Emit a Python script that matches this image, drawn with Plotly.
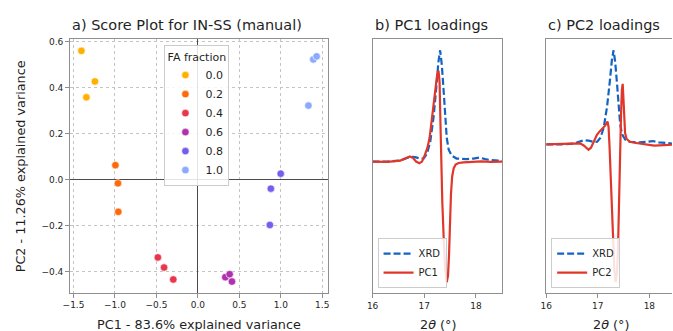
import plotly.graph_objects as go

W, H = 673, 331
FONT = "DejaVu Sans"

# ---- score plot data: PC1 / PC2 scores per FA fraction ----
fa_fractions = ["0.0", "0.2", "0.4", "0.6", "0.8", "1.0"]
fa_colors = ["#FFB000", "#FE6A0A", "#E8364C", "#B030AE", "#735FEE", "#8AA9FF"]
pc1_scores = [
    [-1.405, -1.242, -1.345],
    [-0.995, -0.964, -0.960],
    [-0.483, -0.408, -0.297],
    [0.331, 0.383, 0.411],
    [0.999, 0.880, 0.868],
    [1.392, 1.432, 1.333],
]
pc2_scores = [
    [0.560, 0.427, 0.358],
    [0.063, -0.016, -0.140],
    [-0.338, -0.382, -0.434],
    [-0.424, -0.411, -0.443],
    [0.026, -0.039, -0.197],
    [0.523, 0.536, 0.322],
]

# ---- loadings around the 17.3 deg reflection (normalised to XRD peak) ----
two_theta_xrd = [16.000, 16.287, 16.535, 16.650, 16.732, 16.822, 16.918, 16.989,
                 17.052, 17.115, 17.180, 17.233, 17.272, 17.306, 17.338, 17.371,
                 17.402, 17.434, 17.472, 17.530, 17.625, 17.816, 17.950, 18.065,
                 18.180, 18.294, 18.505]
xrd_pattern = [0.000, 0.000, 0.009, 0.027, 0.045, 0.040, 0.027, 0.029,
               0.071, 0.178, 0.401, 0.668, 0.890, 1.000, 0.873, 0.659,
               0.421, 0.214, 0.107, 0.053, 0.027, 0.022, 0.027, 0.036,
               0.022, 0.013, 0.006]

two_theta_pc1 = [16.000, 16.287, 16.535, 16.650, 16.721, 16.784, 16.841, 16.904,
                 16.956, 17.013, 17.061, 17.103, 17.141, 17.180, 17.205, 17.229,
                 17.252, 17.275, 17.296, 17.312, 17.325, 17.348, 17.377, 17.405,
                 17.434, 17.459, 17.478, 17.497, 17.516, 17.539, 17.568, 17.606,
                 17.663, 17.759, 17.912, 18.103, 18.294, 18.505]
pc1_loading = [0.000, -0.003, 0.009, 0.031, 0.045, 0.031, 0.000, -0.015,
               0.000, 0.062, 0.125, 0.214, 0.356, 0.510, 0.623, 0.719,
               0.793, 0.817, 0.712, 0.356, 0.000, -0.356, -0.712, -0.962,
               -1.084, -1.024, -0.846, -0.534, -0.294, -0.134, -0.062, -0.027,
               -0.013, -0.007, -0.004, 0.002, -0.002, 0.000]

two_theta_pc2 = [16.000, 16.274, 16.504, 16.657, 16.734, 16.820, 16.868, 16.925,
                 16.983, 17.040, 17.098, 17.146, 17.188, 17.209, 17.228, 17.247,
                 17.270, 17.295, 17.322, 17.347, 17.372, 17.391, 17.404, 17.416,
                 17.427, 17.439, 17.452, 17.467, 17.483, 17.496, 17.511, 17.529,
                 17.557, 17.615, 17.710, 17.902, 18.094, 18.285, 18.439, 18.570]
pc2_loading = [0.000, 0.002, 0.007, 0.011, -0.014, -0.056, -0.035, 0.034,
               0.102, 0.141, 0.171, 0.202, 0.244, 0.186, -0.024, -0.287,
               -0.603, -1.024, -1.340, -1.463, -1.361, -1.129, -0.761, -0.445,
               -0.182, 0.081, 0.344, 0.576, 0.644, 0.502, 0.260, 0.123,
               0.060, 0.031, 0.018, 0.002, -0.012, -0.008, -0.005, 0.000]

XRD_COLOR = "#1463C2"
PC_COLOR = "#E0372A"
SPINE = "#8f8f8f"
TEXT = "#1f1f1f"


def px_x(p):
    return p / W


def px_y(p):
    return 1 - p / H


fig = go.Figure()

for label, color, xs, ys in zip(fa_fractions, fa_colors, pc1_scores, pc2_scores):
    fig.add_trace(go.Scatter(
        x=xs, y=ys, mode="markers", name=label,
        marker=dict(size=7.5, color=color, line=dict(width=0.6, color="white")),
        xaxis="x", yaxis="y", legend="legend",
    ))

for tt, load, name, ax, ay, lg in [
    (two_theta_pc1, pc1_loading, "PC1", "x2", "y2", "legend2"),
    (two_theta_pc2, pc2_loading, "PC2", "x3", "y3", "legend3"),
]:
    fig.add_trace(go.Scatter(
        x=two_theta_xrd, y=xrd_pattern, mode="lines", name="XRD",
        line=dict(color=XRD_COLOR, width=2.2, dash="7px,3px"),
        xaxis=ax, yaxis=ay, legend=lg,
    ))
    fig.add_trace(go.Scatter(
        x=tt, y=load, mode="lines", name=name,
        line=dict(color=PC_COLOR, width=2.2),
        xaxis=ax, yaxis=ay, legend=lg,
    ))

tick_font = dict(family=FONT, size=9, color="#262626")
common_axis = dict(showline=True, linecolor=SPINE, linewidth=1, ticks="outside",
                   ticklen=3.5, tickcolor=SPINE, tickfont=tick_font)

ya_top, ya_bot = 36.7, 292.7
yb_top, yb_bot = 36.7, 293.0

layout = dict(
    width=W, height=H,
    margin=dict(l=0, r=0, t=0, b=0),
    paper_bgcolor="white", plot_bgcolor="white",
    font=dict(family=FONT, color=TEXT),
    xaxis=dict(domain=[px_x(63.3), px_x(325)], range=[-1.548, 1.571],
               tickvals=[-1.5, -1.0, -0.5, 0.0, 0.5, 1.0, 1.5], tickformat=".1f",
               showgrid=True, gridcolor="#c4c4c4", griddash="dot", gridwidth=0.8,
               zeroline=True, zerolinecolor="#4a4a4a", zerolinewidth=1,
               mirror=True, anchor="y", **common_axis),
    yaxis=dict(domain=[px_y(ya_bot), px_y(ya_top)], range=[-0.493, 0.61],
               tickvals=[-0.4, -0.2, 0.0, 0.2, 0.4, 0.6], tickformat=".1f",
               showgrid=True, gridcolor="#c4c4c4", griddash="dot", gridwidth=0.8,
               zeroline=True, zerolinecolor="#4a4a4a", zerolinewidth=1,
               mirror=True, anchor="x", **common_axis),
    xaxis2=dict(domain=[px_x(370), px_x(501.3)], range=[16, 18.51],
                tickvals=[16, 17, 18], showgrid=False, zeroline=False,
                mirror=True, anchor="y2", **common_axis),
    yaxis2=dict(domain=[px_y(yb_bot), px_y(yb_top)], range=[-1.184, 1.098],
                showline=True, linecolor=SPINE, linewidth=1, mirror=True,
                showticklabels=False, ticks="", showgrid=False, zeroline=False,
                anchor="x2"),
    xaxis3=dict(domain=[px_x(545.7), 1.0], range=[16, 18.439],
                tickvals=[16, 17, 18], showgrid=False, zeroline=False,
                mirror=True, anchor="y3", **common_axis),
    yaxis3=dict(domain=[px_y(yb_bot), px_y(yb_top)], range=[-1.582, 1.116],
                showline=True, linecolor=SPINE, linewidth=1, mirror=False,
                showticklabels=False, ticks="", showgrid=False, zeroline=False,
                anchor="x3"),
    legend=dict(x=px_x(159.3), y=px_y(42.7), xanchor="left", yanchor="top",
                bgcolor="rgba(255,255,255,0.85)", bordercolor="#cccccc", borderwidth=1,
                font=dict(family=FONT, size=11, color=TEXT),
                title=dict(text="FA fraction", side="top center",
                           font=dict(family=FONT, size=11, color=TEXT))),
    legend2=dict(x=px_x(375), y=px_y(287.7), xanchor="left", yanchor="bottom",
                 bgcolor="rgba(255,255,255,0.85)", bordercolor="#cccccc", borderwidth=1,
                 font=dict(family=FONT, size=10, color=TEXT)),
    legend3=dict(x=px_x(550.7), y=px_y(287.7), xanchor="left", yanchor="bottom",
                 bgcolor="rgba(255,255,255,0.85)", bordercolor="#cccccc", borderwidth=1,
                 font=dict(family=FONT, size=10, color=TEXT)),
    showlegend=True,
)
fig.update_layout(**layout)

title_font = dict(family=FONT, size=14.5, color=TEXT)
label_font = dict(family=FONT, size=12.8, color=TEXT)
annotations = [
    dict(text="a) Score Plot for IN-SS (manual)", x=px_x(63.3), y=px_y(22),
         xanchor="left", yanchor="middle", font=title_font),
    dict(text="b) PC1 loadings", x=px_x(370), y=px_y(22),
         xanchor="left", yanchor="middle", font=title_font),
    dict(text="c) PC2 loadings", x=px_x(545.7), y=px_y(22),
         xanchor="left", yanchor="middle", font=title_font),
    dict(text="PC1 - 83.6% explained variance", x=px_x(194.2), y=px_y(324),
         xanchor="center", yanchor="middle", font=label_font),
    dict(text="PC2 - 11.26% explained variance", x=px_x(14), y=px_y(165),
         xanchor="center", yanchor="middle", textangle=-90, font=label_font),
    dict(text="2<i>θ</i> (°)", x=px_x(435.7), y=px_y(324),
         xanchor="center", yanchor="middle", font=label_font),
    dict(text="2<i>θ</i> (°)", x=px_x(611.7), y=px_y(324),
         xanchor="center", yanchor="middle", font=label_font),
]
for a in annotations:
    a.update(xref="paper", yref="paper", showarrow=False)
fig.update_layout(annotations=annotations)

fig.write_html("out.html")
